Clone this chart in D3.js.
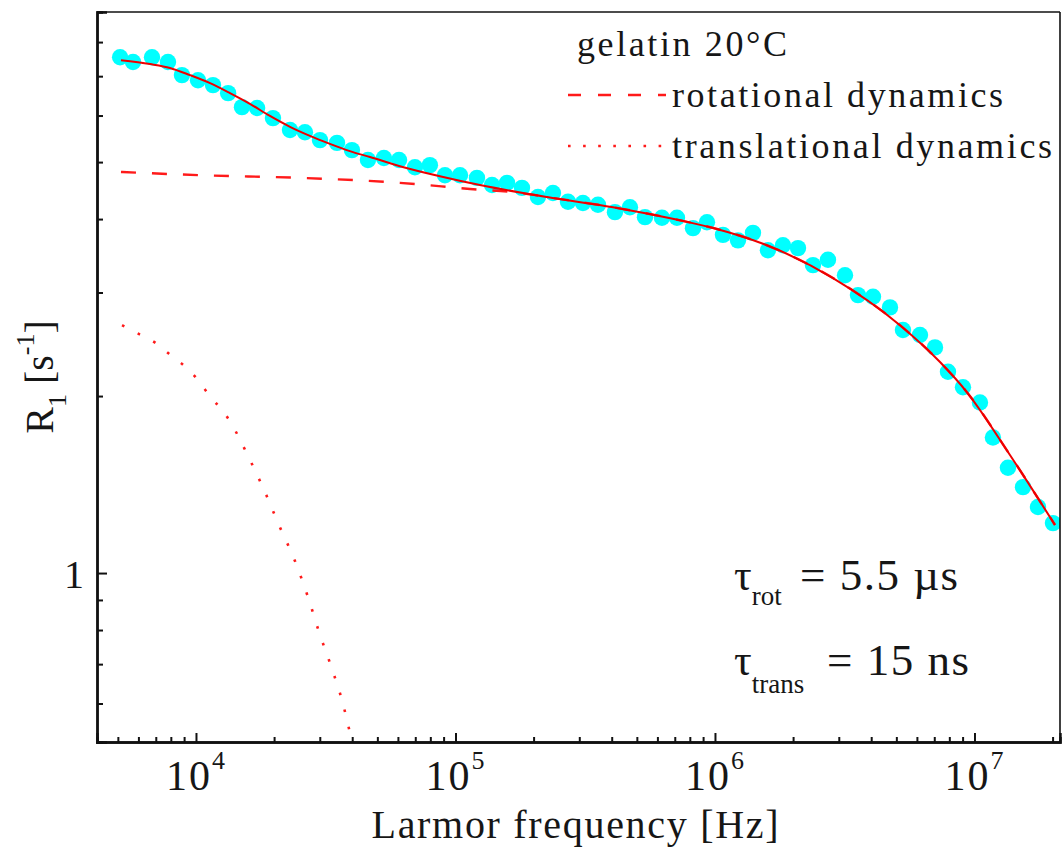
<!DOCTYPE html>
<html>
<head>
<meta charset="utf-8">
<script src="https://cdn.jsdelivr.net/npm/d3@7"></script>
<style>
  html, body { margin: 0; padding: 0; background: #fff; }
  svg { display: block; }
  text { font-family: "Liberation Serif", "Times New Roman", serif; fill: #161616; }
</style>
</head>
<body>
<svg id="chart" width="1063" height="852"></svg>
<script>
// Measured spin-lattice relaxation rate R1 of gelatin at 20 °C (Hz, 1/s)
const freqHz = [5100, 5720, 6770, 7800, 8830, 10180, 11630, 13300, 15040, 17200,
  19800, 23030, 26300, 30050, 34950, 39900, 46000, 53000, 60600, 69800,
  79700, 91100, 104100, 121000, 138300, 158000, 180400, 207900, 237500, 271400,
  309900, 354100, 411700, 470300, 537400, 624800, 713800, 822800, 931500, 1.0735e6,
  1.2266e6, 1.401e6, 1.6e6, 1.828e6, 2.089e6, 2.386e6, 2.726e6, 3.17e6, 3.557e6, 4.064e6,
  4.725e6, 5.302e6, 6.166e6, 7.045e6, 7.905e6, 9.03e6, 1.05e7, 1.178e7, 1.346e7, 1.538e7,
  1.757e7, 2.007e7];
const r1Measured = [7.54, 7.40, 7.54, 7.40, 7.03, 6.89, 6.76, 6.55, 6.20, 6.18,
  5.94, 5.67, 5.62, 5.45, 5.39, 5.24, 5.04, 5.08, 5.04, 4.90,
  4.94, 4.75, 4.75, 4.70, 4.57, 4.61, 4.52, 4.36, 4.43, 4.28,
  4.26, 4.23, 4.11, 4.19, 4.03, 4.02, 4.02, 3.86, 3.95, 3.76,
  3.68, 3.79, 3.54, 3.61, 3.57, 3.34, 3.41, 3.21, 2.97, 2.95,
  2.83, 2.59, 2.54, 2.42, 2.20, 2.07, 1.95, 1.70, 1.51, 1.40,
  1.295, 1.216];

// Total model fit (solid line)
const fitFreq = [5140, 6650, 7940, 9480, 11330, 13520, 16140, 19280, 23030,
  27490, 32820, 39180, 46840, 61090, 87100, 124200, 225300, 404600, 733300,
  9.91e5, 1.586e6, 2.849e6, 5.163e6, 7.365e6, 9.357e6, 1.37e7, 2.043e7];
const fitR1 = [7.45, 7.34, 7.23, 7.03, 6.81, 6.55, 6.28, 5.99, 5.74,
  5.54, 5.37, 5.22, 5.10, 4.92, 4.73, 4.57, 4.36, 4.19, 3.98,
  3.86, 3.61, 3.175, 2.64, 2.285, 2.03, 1.588, 1.207];

// Rotational contribution (dashed line)
const rotFreq = [5140, 10360, 25170, 61090, 113800, 177200, 225300, 404600, 733300,
  9.91e5, 1.586e6, 2.849e6, 5.163e6, 7.365e6, 9.357e6, 1.37e7, 2.043e7];
const rotR1 = [4.81, 4.75, 4.70, 4.61, 4.50, 4.43, 4.36, 4.19, 3.98,
  3.86, 3.61, 3.175, 2.64, 2.285, 2.03, 1.588, 1.207];

// Translational contribution (dotted line)
const transFreq = [5190, 5925, 7013, 7870, 8913, 10000, 11030, 13640, 16000, 18450,
  20880, 24070, 27020, 29790, 33430, 36860, 39920, 41360];
const transR1 = [2.64, 2.56, 2.46, 2.36, 2.26, 2.15, 2.03, 1.80, 1.57, 1.373,
  1.207, 1.048, 0.910, 0.794, 0.687, 0.599, 0.516, 0.481];

// Axis ticks and labels
const xMajorTicks = [1e4, 1e5, 1e6, 1e7];
const xMajorExponents = ["4", "5", "6", "7"];
const xMinorTicks = [5000, 6000, 7000, 8000, 9000,
  2e4, 3e4, 4e4, 5e4, 6e4, 7e4, 8e4, 9e4,
  2e5, 3e5, 4e5, 5e5, 6e5, 7e5, 8e5, 9e5,
  2e6, 3e6, 4e6, 5e6, 6e6, 7e6, 8e6, 9e6, 2e7];
const yMajorTicks = [1];
const yMajorLabels = ["1"];
const yMinorTicks = [0.6, 0.7, 0.8, 0.9, 2, 3, 4, 5, 6, 7, 8];

const legendTitle = "gelatin 20\u00B0C";
const legendLabels = ["rotational dynamics", "translational dynamics"];

const serif = "'Liberation Serif', 'Times New Roman', serif";
const svg = d3.select("#chart");
const plotLeft = 97, plotRight = 1060, plotTop = 12, plotBottom = 742;

const x = d3.scaleLog().domain([4155, 2.136e7]).range([plotLeft, plotRight]);
const y = d3.scaleLog().domain([0.516, 9.0]).range([plotBottom, plotTop]);

svg.append("defs").append("clipPath").attr("id", "plotClip")
  .append("rect").attr("x", plotLeft).attr("y", plotTop)
  .attr("width", plotRight - plotLeft).attr("height", plotBottom - plotTop);

const plot = svg.append("g").attr("clip-path", "url(#plotClip)");

// measured points
plot.append("g").selectAll("circle")
  .data(freqHz.map((f, i) => [f, r1Measured[i]]))
  .join("circle")
  .attr("cx", d => x(d[0]))
  .attr("cy", d => y(d[1]))
  .attr("r", 8.2)
  .attr("fill", "#00ffff");

const line = d3.line().x(d => x(d[0])).y(d => y(d[1])).curve(d3.curveMonotoneX);

// translational (dotted)
plot.append("path")
  .datum(transFreq.map((f, i) => [f, transR1[i]]))
  .attr("d", line)
  .attr("fill", "none")
  .attr("stroke", "#ff1a1a")
  .attr("stroke-width", 2.6)
  .attr("stroke-dasharray", "2.6,15");

// rotational (dashed)
plot.append("path")
  .datum(rotFreq.map((f, i) => [f, rotR1[i]]))
  .attr("d", line)
  .attr("fill", "none")
  .attr("stroke", "#ff1a1a")
  .attr("stroke-width", 2.4)
  .attr("stroke-dasharray", "15,16");

// total fit (solid)
plot.append("path")
  .datum(fitFreq.map((f, i) => [f, fitR1[i]]))
  .attr("d", line)
  .attr("fill", "none")
  .attr("stroke", "#ee0000")
  .attr("stroke-width", 2);

// frame
svg.append("line").attr("x1", plotLeft).attr("x2", plotRight).attr("y1", plotTop).attr("y2", plotTop)
  .attr("stroke", "#111").attr("stroke-width", 1.6);
svg.append("line").attr("x1", plotRight).attr("x2", plotRight).attr("y1", plotTop).attr("y2", plotBottom)
  .attr("stroke", "#111").attr("stroke-width", 1.6);

// x axis
const gxMinor = svg.append("g").attr("transform", `translate(0,${plotBottom})`)
  .call(d3.axisBottom(x).tickValues(xMinorTicks).tickSize(-5).tickFormat(""));
const gxMajor = svg.append("g").attr("transform", `translate(0,${plotBottom})`)
  .call(d3.axisBottom(x).tickValues(xMajorTicks).tickSize(-9).tickFormat(""));
[gxMinor, gxMajor].forEach(g => {
  g.select(".domain").attr("stroke", "#111").attr("stroke-width", 2.4);
  g.selectAll(".tick line").attr("stroke", "#111").attr("stroke-width", 2);
});
gxMajor.selectAll(".tick").each(function(d, i) {
  const t = d3.select(this).append("text")
    .attr("y", 48)
    .attr("text-anchor", "middle")
    .attr("font-size", 42)
    .attr("font-family", serif)
    .attr("fill", "#161616")
    .style("letter-spacing", "2px");
  t.append("tspan").text("10");
  t.append("tspan").attr("font-size", 26).attr("dy", -21).text(xMajorExponents[i]);
});

// y axis
const gyMinor = svg.append("g").attr("transform", `translate(${plotLeft},0)`)
  .call(d3.axisLeft(y).tickValues(yMinorTicks).tickSize(-6).tickFormat(""));
const gyMajor = svg.append("g").attr("transform", `translate(${plotLeft},0)`)
  .call(d3.axisLeft(y).tickValues(yMajorTicks).tickSize(-10).tickFormat((d, i) => yMajorLabels[i]));
[gyMinor, gyMajor].forEach(g => {
  g.select(".domain").attr("stroke", "#111").attr("stroke-width", 2.4);
  g.selectAll(".tick line").attr("stroke", "#111").attr("stroke-width", 2);
});
gyMajor.selectAll(".tick text")
  .attr("x", -13).attr("dy", "0.35em")
  .attr("font-size", 40)
  .attr("font-family", serif)
  .attr("fill", "#161616");

// axis titles
svg.append("text")
  .attr("x", 575).attr("y", 838)
  .attr("text-anchor", "middle")
  .attr("font-size", 40)
  .attr("font-family", serif)
  .attr("textLength", 407).attr("lengthAdjust", "spacing")
  .text("Larmor frequency [Hz]");

const yTitle = svg.append("text")
  .attr("transform", "translate(53,377) rotate(-90)")
  .attr("text-anchor", "middle")
  .attr("font-family", serif)
  .attr("font-size", 40);
yTitle.append("tspan").text("R");
yTitle.append("tspan").attr("font-size", 26).attr("dy", 13).text("1");
yTitle.append("tspan").attr("dy", -13).text(" [s");
yTitle.append("tspan").attr("font-size", 26).attr("dy", -19).text("-1");
yTitle.append("tspan").attr("dy", 19).text("]");

// legend
svg.append("text").attr("x", 577).attr("y", 56)
  .attr("font-size", 36).attr("font-family", serif)
  .attr("textLength", 210).attr("lengthAdjust", "spacing")
  .text(legendTitle);
const legendRows = [
  { label: legendLabels[0], y: 95, dash: "13,17", width: 2.4, textLen: 331 },
  { label: legendLabels[1], y: 146, dash: "2.6,12.5", width: 2.6, textLen: 380 }
];
legendRows.forEach(r => {
  svg.append("line")
    .attr("x1", 568).attr("x2", 666).attr("y1", r.y).attr("y2", r.y)
    .attr("stroke", "#ff1a1a").attr("stroke-width", r.width)
    .attr("stroke-dasharray", r.dash);
  svg.append("text").attr("x", 672).attr("y", r.y + 12)
    .attr("font-size", 36).attr("font-family", serif)
    .attr("textLength", r.textLen).attr("lengthAdjust", "spacing")
    .text(r.label);
});

// correlation times
const annotations = [
  { sym: "\u03C4", sub: "rot", subDy: 15, rest: "= 5.5 \u00B5s", restX: 800, y: 590 },
  { sym: "\u03C4", sub: "trans", subDy: 18, rest: "= 15 ns", restX: 827, y: 675 }
];
annotations.forEach(a => {
  const t = svg.append("text").attr("x", 734).attr("y", a.y)
    .attr("font-size", 44).attr("font-family", serif);
  t.append("tspan").text(a.sym);
  t.append("tspan").attr("font-size", 27).attr("dy", a.subDy).text(a.sub);
  svg.append("text").attr("x", a.restX).attr("y", a.y)
    .attr("font-size", 45).attr("font-family", serif)
    .style("letter-spacing", "1.5px")
    .text(a.rest);
});
</script>
</body>
</html>
